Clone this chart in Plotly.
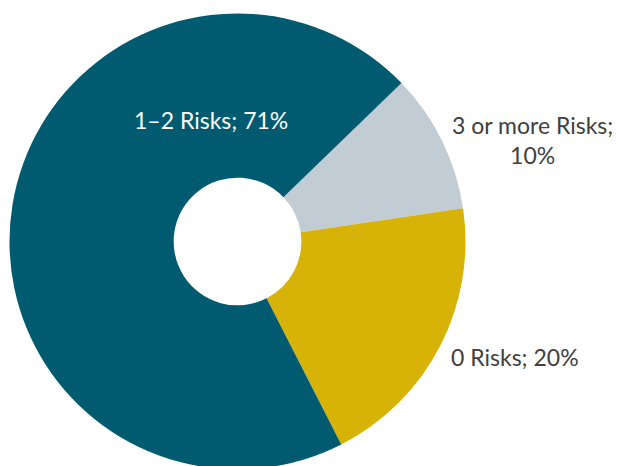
import plotly.graph_objects as go

labels = ["3 or more Risks", "0 Risks", "1–2 Risks"]
values = [10, 20, 71]
colors = ["#C2CCD4", "#D8B307", "#005B70"]
label_text = ["3 or more Risks;<br>10%", "0 Risks; 20%", "1–2 Risks; 71%"]
label_colors = ["#404040", "#404040", "#FFFFFF"]

W, H = 623, 472
fig = go.Figure(go.Pie(
    labels=labels, values=values, sort=False, direction="clockwise",
    rotation=46, hole=0.28,
    marker=dict(colors=colors, line=dict(width=0)),
    textinfo="none", hoverinfo="label+percent", showlegend=False,
    domain=dict(x=[9.5 / W, 465.5 / W], y=[1 - 469.5 / H, 1 - 13.5 / H]),
))

# label positions (pixel anchor -> paper)
lab_pos = [(532, 140), (515, 357), (211, 120)]
for (px, py), t, c in zip(lab_pos, label_text, label_colors):
    fig.add_annotation(x=px / W, y=1 - py / H, xref="paper", yref="paper",
                       text=t, showarrow=False, xanchor="center", yanchor="middle",
                       font=dict(family="Lato", size=23, color=c))

fig.update_layout(width=W, height=H, margin=dict(l=0, r=0, t=0, b=0),
                  paper_bgcolor="white", plot_bgcolor="white")
fig.write_html("out.html", config={"displayModeBar": False},
               post_script="document.body.style.margin='0';document.body.style.overflow='hidden';")
